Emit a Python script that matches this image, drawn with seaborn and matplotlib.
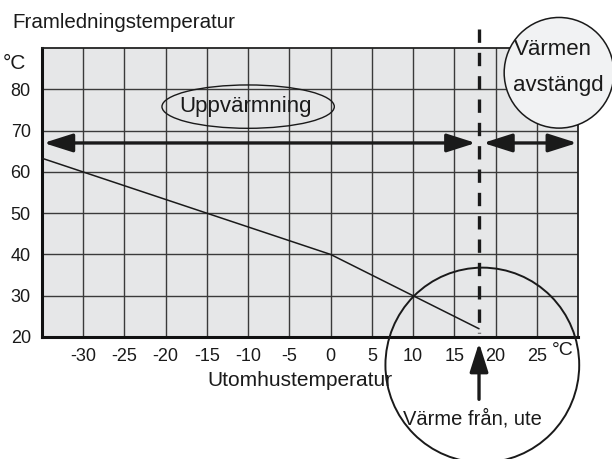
import matplotlib
matplotlib.use("Agg")
import matplotlib.pyplot as plt
from matplotlib.patches import Ellipse
import seaborn as sns
import pandas as pd

# ---- data ----
outdoor_temp = [-35, 0, 18]
flow_temp = [63.3, 40, 22]
x_ticks = [-30, -25, -20, -15, -10, -5, 0, 5, 10, 15, 20, 25]
y_ticks = [20, 30, 40, 50, 60, 70, 80]
cutoff_temp = 18
arrow_level = 67

sns.set_style("whitegrid", {"axes.facecolor": "#e6e7e8", "grid.color": "#3a3a3a",
                            "axes.edgecolor": "#222222"})
plt.rcParams['font.family'] = ['Liberation Sans', 'DejaVu Sans']
plt.rcParams['axes.unicode_minus'] = False

fig = plt.figure(figsize=(6.12, 4.59), dpi=100)
ax = fig.add_axes([0.0686, 0.2658, 0.8758, 0.6296])

df = pd.DataFrame({"ute": outdoor_temp, "fram": flow_temp})
sns.lineplot(data=df, x="ute", y="fram", ax=ax, color="#1a1a1a", lw=1.1, zorder=3)

ax.set_xlim(-35, 30)
ax.set_ylim(20, 90)
ax.set_xticks(x_ticks)
ax.set_yticks(y_ticks)
ax.grid(True, color="#3a3a3a", lw=1.0)
ax.tick_params(length=0, labelsize=13, colors="#1a1a1a", pad=8)
ax.set_xlabel("")
ax.set_ylabel("")
for s in ["left", "bottom"]:
    ax.spines[s].set_linewidth(2.2)
    ax.spines[s].set_color("#111111")
for s in ["top", "right"]:
    ax.spines[s].set_linewidth(1.3)
    ax.spines[s].set_color("#222222")

dark = "#1a1a1a"
# dashed cutoff line (drawn top -> bottom so the pattern starts at the top)
ax.plot([cutoff_temp, cutoff_temp], [94.7, 21], color=dark, lw=2.4,
        dashes=(4, 3), clip_on=False, zorder=4)

# double arrows
ap = dict(arrowstyle="<|-|>,head_length=1.1,head_width=0.35", color=dark, lw=2.4,
          shrinkA=0, shrinkB=0, mutation_scale=16)
ax.annotate("", xy=(-34.8, arrow_level), xytext=(cutoff_temp - 0.4, arrow_level),
            arrowprops=ap, annotation_clip=False, zorder=5)
ax.annotate("", xy=(cutoff_temp + 0.5, arrow_level), xytext=(29.9, arrow_level),
            arrowprops=ap, annotation_clip=False, zorder=5)

# up arrow below axis
ax.annotate("", xy=(cutoff_temp, 18.6), xytext=(cutoff_temp, 4.9),
            arrowprops=dict(arrowstyle="-|>,head_length=1.1,head_width=0.35", color=dark,
                            lw=2.4, shrinkA=0, shrinkB=0, mutation_scale=16),
            annotation_clip=False, zorder=5)

# ellipse Uppvärmning
ax.add_patch(Ellipse((-10, 75.8), 20.9, 10.5, fill=False, ec=dark, lw=1.0, zorder=4))
ax.text(-10.3, 75.8, "Uppvärmning", ha="center", va="center", fontsize=16, color=dark, zorder=5)

# circle Värmen avstängd
ax.add_patch(Ellipse((27.7, 84), 13.3, 26.8, fc="#f1f2f3", ec=dark, lw=1.1,
                     clip_on=False, zorder=6))
ax.text(27.0, 89.6, "Värmen", ha="center", va="center", fontsize=16, color=dark,
        zorder=7, clip_on=False)
ax.text(27.6, 80.8, "avstängd", ha="center", va="center", fontsize=16, color=dark,
        zorder=7, clip_on=False)

# big circle
ax.add_patch(Ellipse((18.4, 13.2), 23.5, 47.2, fill=False, ec=dark, lw=1.4,
                     clip_on=False, zorder=6))
ax.text(17.2, 0.3, "Värme från, ute", ha="center", va="center", fontsize=14.5,
        color=dark, clip_on=False)

# labels
fig.text(12 / 612, 1 - 22 / 459, "Framledningstemperatur", ha="left", va="center",
         fontsize=14.8, color=dark)
ax.text(-3.7, 9.5, "Utomhustemperatur", ha="center", va="center", fontsize=15,
        color=dark, clip_on=False)
ax.text(-38.4, 86.2, "°C", ha="center", va="center", fontsize=15, color=dark, clip_on=False)
ax.text(28.2, 16.8, "°C", ha="center", va="center", fontsize=14, color=dark, clip_on=False)

fig.savefig("out.png", dpi=100)
